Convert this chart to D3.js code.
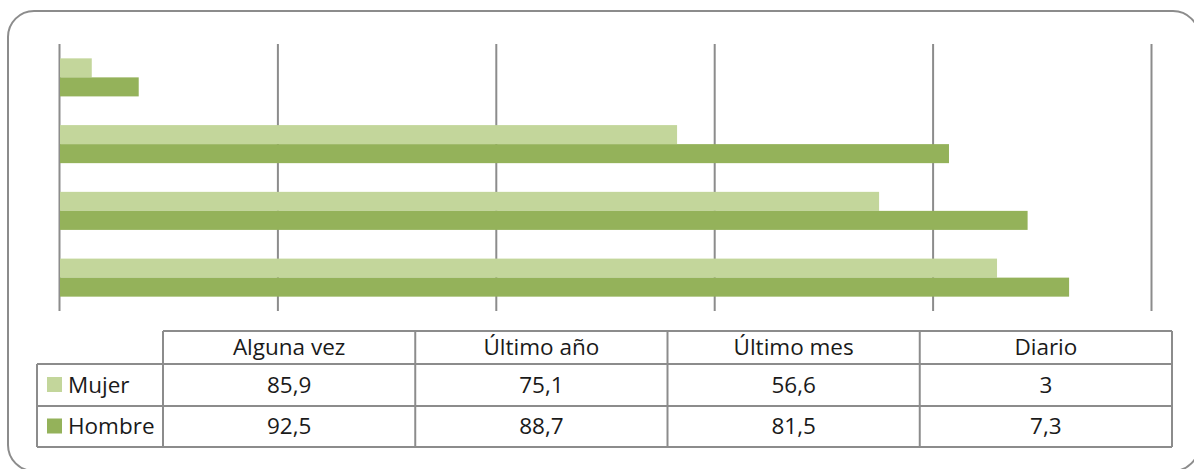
<!DOCTYPE html>
<html>
<head>
<meta charset="utf-8">
<script src="https://cdn.jsdelivr.net/npm/d3@7"></script>
<style>
  html, body { margin: 0; padding: 0; background: #fff; overflow: hidden; }
  svg { display: block; }
  text { font-family: "Open Sans", "Lato", sans-serif; fill: #1a1a1a; }
</style>
</head>
<body>
<svg id="chart" width="1194" height="469"></svg>
<script>
// Frequency categories (table order, left to right)
const categories = ["Alguna vez", "Último año", "Último mes", "Diario"];
// Series values (%)
const mujer = [85.9, 75.1, 56.6, 3];
const hombre = [92.5, 88.7, 81.5, 7.3];
const seriesNames = ["Mujer", "Hombre"];
const seriesColors = ["#c3d69b", "#94b25a"];
const xTicks = [0, 20, 40, 60, 80, 100];

const fmt = v => String(v).replace(".", ",");

const svg = d3.select("#chart");

// Rounded outer frame (runs slightly past the right and bottom edges)
svg.append("rect")
  .attr("x", 8).attr("y", 11)
  .attr("width", 1191).attr("height", 460)
  .attr("rx", 26).attr("ry", 26)
  .attr("fill", "#fff")
  .attr("stroke", "#8c8c8c").attr("stroke-width", 2);

// Scales
const x = d3.scaleLinear().domain([0, 100]).range([59, 1151]);
// bars run top to bottom in reverse table order
const y = d3.scaleBand()
  .domain(categories.slice().reverse())
  .range([44, 311])
  .paddingInner(0.43)
  .paddingOuter(0.215);
const ySub = d3.scaleBand().domain(seriesNames).range([0, y.bandwidth()]);

// Vertical gridlines via axis
const gridAxis = d3.axisBottom(x).tickValues(xTicks).tickSize(-(311 - 44)).tickFormat("");
const g = svg.append("g").attr("transform", "translate(0,311)").call(gridAxis);
g.select(".domain").remove();
g.selectAll(".tick line").attr("stroke", "#8c8c8c").attr("stroke-width", 2);

// Bars
const data = [];
categories.forEach((c, i) => {
  data.push({ cat: c, s: "Mujer", v: mujer[i] });
  data.push({ cat: c, s: "Hombre", v: hombre[i] });
});
const color = d3.scaleOrdinal().domain(seriesNames).range(seriesColors);

svg.append("g").selectAll("rect")
  .data(data)
  .join("rect")
  .attr("x", x(0) + 1)
  .attr("y", d => y(d.cat) + ySub(d.s))
  .attr("width", d => x(d.v) - x(0) - 1)
  .attr("height", ySub.bandwidth())
  .attr("fill", d => color(d.s));

// Data table
const col = d3.scaleBand().domain(categories).range([163, 1172]);
const rowTop = [331, 364, 406, 447];
const legendLeft = 37;
const tbl = svg.append("g");
const lineStyle = sel => sel.attr("stroke", "#8c8c8c").attr("stroke-width", 2).attr("fill", "none");

// horizontal lines
tbl.append("line").attr("x1", 163).attr("x2", 1172).attr("y1", rowTop[0]).attr("y2", rowTop[0]).call(lineStyle);
[1, 2, 3].forEach(i => {
  tbl.append("line").attr("x1", legendLeft).attr("x2", 1172).attr("y1", rowTop[i]).attr("y2", rowTop[i]).call(lineStyle);
});
// vertical lines
tbl.append("line").attr("x1", legendLeft).attr("x2", legendLeft).attr("y1", rowTop[1]).attr("y2", rowTop[3]).call(lineStyle);
categories.forEach(c => {
  tbl.append("line").attr("x1", col(c)).attr("x2", col(c)).attr("y1", rowTop[0]).attr("y2", rowTop[3]).call(lineStyle);
});
tbl.append("line").attr("x1", 1172).attr("x2", 1172).attr("y1", rowTop[0]).attr("y2", rowTop[3]).call(lineStyle);

const fs = 22.5;
// header
tbl.selectAll("text.head")
  .data(categories)
  .join("text")
  .attr("class", "head")
  .attr("x", d => col(d) + col.bandwidth() / 2)
  .attr("y", (rowTop[0] + rowTop[1]) / 2)
  .attr("dy", "0.35em")
  .attr("text-anchor", "middle")
  .attr("font-size", fs)
  .text(d => d);

// value rows
[mujer, hombre].forEach((vals, r) => {
  const cy = (rowTop[r + 1] + rowTop[r + 2]) / 2;
  tbl.append("rect")
    .attr("x", 47).attr("y", cy - 8)
    .attr("width", 15).attr("height", 15)
    .attr("fill", seriesColors[r]);
  tbl.append("text")
    .attr("x", 68).attr("y", cy)
    .attr("dy", "0.35em")
    .attr("font-size", fs)
    .text(seriesNames[r]);
  tbl.selectAll("text.v" + r)
    .data(vals)
    .join("text")
    .attr("class", "v" + r)
    .attr("x", (d, i) => col(categories[i]) + col.bandwidth() / 2)
    .attr("y", cy)
    .attr("dy", "0.35em")
    .attr("text-anchor", "middle")
    .attr("font-size", fs)
    .text(d => fmt(d));
});
</script>
</body>
</html>
